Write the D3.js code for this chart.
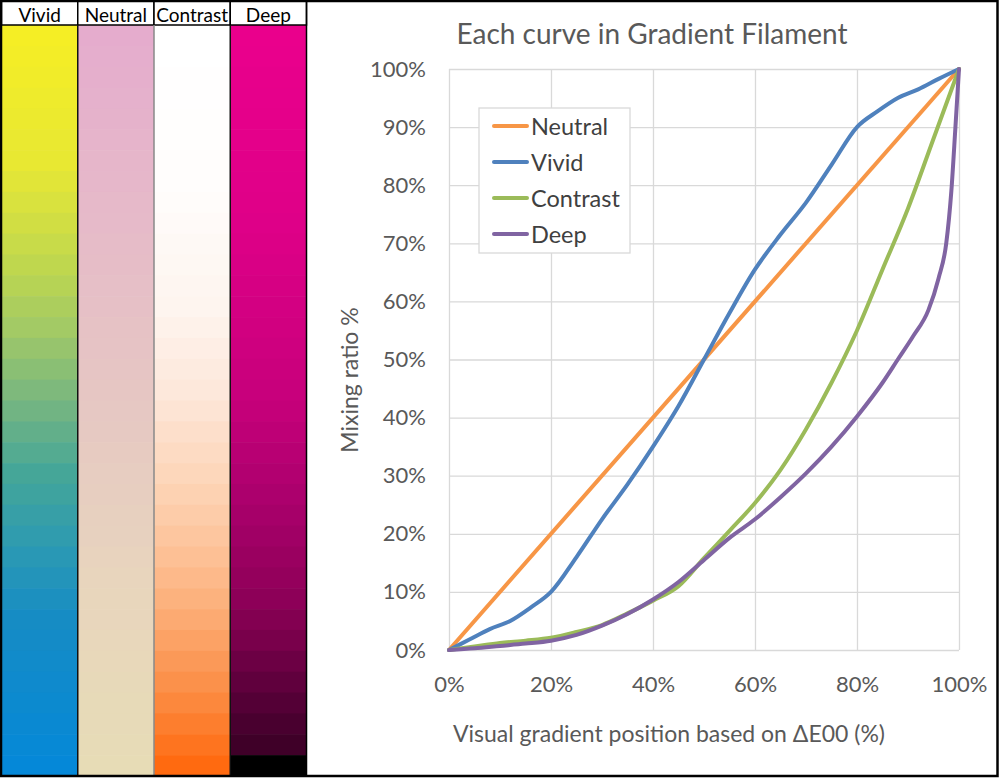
<!DOCTYPE html>
<html>
<head>
<meta charset="utf-8">
<script src="https://cdn.jsdelivr.net/npm/d3@7"></script>
<style>
  body { margin: 0; background: #fff; }
  svg { display: block; font-family: Lato, "Open Sans", sans-serif; }
</style>
</head>
<body>
<div id="wrapper"></div>
<script>
// chart values
const seriesNames = ["Neutral", "Vivid", "Contrast", "Deep"]
const seriesColors = ["#F79646", "#4F81BD", "#9BBB59", "#8064A2"]

const neutralX = [0, 100]
const neutralY = [0, 100]

const vividX = [0, 4, 8, 12, 16, 20, 25, 30, 35, 40, 45, 50, 55, 60, 65, 70, 75, 80, 84, 88, 92, 96, 100]
const vividY = [0, 1.8, 3.6, 5, 7.3, 10, 16, 22.5, 28.5, 35, 42, 50, 58, 65.5, 71.5, 77, 83.5, 90, 92.7, 95, 96.5, 98.3, 100]

const contrastX = [0, 5, 10, 15, 20, 25, 30, 35, 40, 45, 50, 55, 60, 65, 70, 75, 80, 85, 90, 95, 100]
const contrastY = [0, 0.6, 1.2, 1.6, 2.1, 3.1, 4.3, 6.3, 8.5, 11, 15.8, 20.5, 25.3, 31, 38, 46, 55, 65.5, 76, 88, 100]

const deepX = [0, 5, 10, 15, 20, 25, 30, 35, 40, 45, 50, 55, 60, 65, 70, 75, 80, 85, 88, 91, 94, 96, 97.5, 98.5, 99.3, 100]
const deepY = [0, 0.3, 0.7, 1.1, 1.6, 2.6, 4.2, 6.2, 8.7, 11.7, 15.5, 19.3, 22.5, 26.3, 30.4, 35, 40.2, 46, 50, 54, 58.5, 64, 70, 79, 90, 100]

const xTicks = [0, 20, 40, 60, 80, 100]
const yTicks = [0, 10, 20, 30, 40, 50, 60, 70, 80, 90, 100]

// colour strips on the left
const stripNames = ["Vivid", "Neutral", "Contrast", "Deep"]
const vividStops = [0, 0.17, 0.23, 0.32, 0.40, 0.50, 0.60, 0.70, 0.80, 1]
const vividColors = ["#f5ee25", "#e8e832", "#d9e23e", "#bdd64f", "#a3ca65", "#78b680", "#45a698", "#2c9ab2", "#168cc4", "#0588d8"]
const neutralStops = [0, 0.25, 0.5, 0.75, 1]
const neutralColors = ["#e5accd", "#e6bac9", "#e6c7c3", "#e8d5bd", "#e7dcb6"]
const contrastStops = [0, 0.2, 0.37, 0.5, 0.63, 0.72, 0.8, 0.9, 1]
const contrastColors = ["#ffffff", "#fffdfc", "#fef5ef", "#fde6d8", "#fdd2b2", "#fdbf93", "#fcaa72", "#fb8d45", "#ff6a10"]
const deepStops = [0, 0.25, 0.5, 0.63, 0.77, 0.83, 0.9, 0.96, 0.99, 1]
const deepColors = ["#ea008c", "#df0088", "#c7007b", "#ac006d", "#8e0058", "#78004b", "#5a003a", "#42002a", "#3a0025", "#000000"]
const bandCount = 36

function drawChart() {
    const series = [
        { name: "Neutral", x: neutralX, y: neutralY },
        { name: "Vivid", x: vividX, y: vividY },
        { name: "Contrast", x: contrastX, y: contrastY },
        { name: "Deep", x: deepX, y: deepY },
    ].map((s, i) => ({ ...s, color: seriesColors[i], points: s.x.map((v, j) => [v, s.y[j]]) }))

    const strips = [
        { name: "Vivid", stops: vividStops, colors: vividColors },
        { name: "Neutral", stops: neutralStops, colors: neutralColors },
        { name: "Contrast", stops: contrastStops, colors: contrastColors },
        { name: "Deep", stops: deepStops, colors: deepColors },
    ]

    let dimensions = {
        width: 1000,
        height: 778,
        margin: {
            top: 69,
            right: 41,
            bottom: 128,
            left: 449,
        },
    }
    dimensions.boundedWidth = dimensions.width
        - dimensions.margin.left
        - dimensions.margin.right
    dimensions.boundedHeight = dimensions.height
        - dimensions.margin.top
        - dimensions.margin.bottom

    const wrapper = d3.select("#wrapper")
        .html("")
        .append("svg")
        .attr("width", dimensions.width)
        .attr("height", dimensions.height)

    // ---- left strips
    const stripX = d3.scaleBand()
        .domain(stripNames)
        .range([1.5, 306.5])
    const bandY = d3.scaleBand()
        .domain(d3.range(bandCount))
        .range([25, 776])

    const stripGroups = wrapper.append("g")
        .selectAll("g")
        .data(strips)
        .join("g")

    stripGroups.each(function (s) {
        const colorScale = d3.scaleLinear()
            .domain(s.stops)
            .range(s.colors)
            .interpolate(d3.interpolateRgb)
        d3.select(this).selectAll("rect")
            .data(d3.range(bandCount))
            .join("rect")
            .attr("x", stripX(s.name))
            .attr("y", i => bandY(i))
            .attr("width", stripX.bandwidth())
            .attr("height", bandY.bandwidth() + 0.6)
            .attr("fill", i => colorScale(i / (bandCount - 1)))
    })

    stripGroups.append("rect")
        .attr("x", s => stripX(s.name))
        .attr("y", 1)
        .attr("width", stripX.bandwidth())
        .attr("height", 24)
        .attr("fill", "white")
        .attr("stroke", "black")
        .attr("stroke-width", 1.5)

    stripGroups.append("text")
        .attr("x", s => stripX(s.name) + stripX.bandwidth() / 2)
        .attr("y", 14)
        .attr("dominant-baseline", "central")
        .attr("text-anchor", "middle")
        .attr("font-size", "19px")
        .attr("fill", "black")
        .text(s => s.name)

    // vertical separators between strips
    wrapper.append("g")
        .selectAll("line")
        .data(stripNames.slice(1))
        .join("line")
        .attr("x1", d => stripX(d))
        .attr("x2", d => stripX(d))
        .attr("y1", 25)
        .attr("y2", 776)
        .attr("stroke", d => d == "Contrast" ? "#888" : "#111")
        .attr("stroke-width", 1.5)

    wrapper.append("line")
        .attr("x1", 306.5).attr("x2", 306.5)
        .attr("y1", 1).attr("y2", 776)
        .attr("stroke", "black")
        .attr("stroke-width", 1.5)

    // ---- chart
    const bounds = wrapper.append("g")
        .attr("transform", `translate(${dimensions.margin.left},${dimensions.margin.top})`)

    const xScaler = d3.scaleLinear()
        .domain([0, 100])
        .range([0, dimensions.boundedWidth])
    const yScaler = d3.scaleLinear()
        .domain([0, 100])
        .range([dimensions.boundedHeight, 0])

    const yAxisGen = d3.axisLeft(yScaler)
        .tickValues(yTicks)
        .tickFormat(d => d + "%")
        .tickSize(-dimensions.boundedWidth)
        .tickPadding(23)
    const yAxis = bounds.append("g").call(yAxisGen)

    const xAxisGen = d3.axisBottom(xScaler)
        .tickValues(xTicks)
        .tickFormat(d => d + "%")
        .tickSize(-dimensions.boundedHeight)
        .tickPadding(26)
    const xAxis = bounds.append("g")
        .attr("transform", `translate(0,${dimensions.boundedHeight})`)
        .call(xAxisGen)

    ;[xAxis, yAxis].forEach(ax => {
        ax.select(".domain").remove()
        ax.selectAll(".tick line")
            .attr("stroke", "#d9d9d9")
            .attr("stroke-width", 1.3)
        ax.selectAll(".tick text")
            .attr("fill", "#595959")
            .attr("font-size", "22px")
            .attr("font-family", "Lato, sans-serif")
    })

    const lineGen = d3.line()
        .x(d => xScaler(d[0]))
        .y(d => yScaler(d[1]))
        .curve(d3.curveMonotoneX)

    bounds.append("g")
        .selectAll("path")
        .data(series)
        .join("path")
        .attr("d", s => lineGen(s.points))
        .attr("fill", "none")
        .attr("stroke", s => s.color)
        .attr("stroke-width", 4)
        .attr("stroke-linejoin", "round")
        .attr("stroke-linecap", "round")

    // legend
    const legend = wrapper.append("g")
        .attr("transform", "translate(479,108)")
    legend.append("rect")
        .attr("width", 151)
        .attr("height", 145)
        .attr("fill", "white")
        .attr("stroke", "#d9d9d9")
        .attr("stroke-width", 1.3)
    const legendItems = legend.selectAll("g")
        .data(series)
        .join("g")
        .attr("transform", (d, i) => `translate(0,${18 + i * 36})`)
    legendItems.append("line")
        .attr("x1", 15).attr("x2", 48)
        .attr("stroke", d => d.color)
        .attr("stroke-width", 4)
        .attr("stroke-linecap", "round")
    legendItems.append("text")
        .attr("x", 52)
        .attr("dominant-baseline", "central")
        .attr("font-size", "23.5px")
        .attr("fill", "#404040")
        .text(d => d.name)

    // titles
    wrapper.append("text")
        .attr("x", 652)
        .attr("y", 33)
        .attr("dominant-baseline", "central")
        .attr("text-anchor", "middle")
        .attr("font-size", "28px")
        .attr("fill", "#595959")
        .text("Each curve in Gradient Filament")

    wrapper.append("text")
        .attr("transform", "translate(349,380) rotate(-90)")
        .attr("dominant-baseline", "central")
        .attr("text-anchor", "middle")
        .attr("font-size", "23px")
        .attr("fill", "#595959")
        .text("Mixing ratio %")

    wrapper.append("text")
        .attr("x", 669)
        .attr("y", 733)
        .attr("dominant-baseline", "central")
        .attr("text-anchor", "middle")
        .attr("font-size", "23px")
        .attr("fill", "#595959")
        .text("Visual gradient position based on ΔE00 (%)")

    // outer frame
    wrapper.append("rect")
        .attr("x", 1).attr("y", 1)
        .attr("width", 996.5).attr("height", 775)
        .attr("fill", "none")
        .attr("stroke", "black")
        .attr("stroke-width", 2.5)
}

drawChart()
</script>
</body>
</html>
